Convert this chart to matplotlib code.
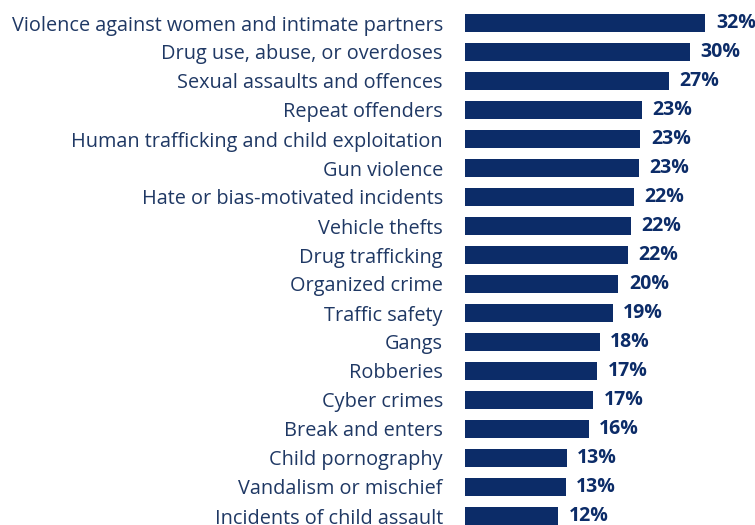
import matplotlib
matplotlib.use("Agg")
import matplotlib.pyplot as plt

categories = [
    "Violence against women and intimate partners",
    "Drug use, abuse, or overdoses",
    "Sexual assaults and offences",
    "Repeat offenders",
    "Human trafficking and child exploitation",
    "Gun violence",
    "Hate or bias-motivated incidents",
    "Vehicle thefts",
    "Drug trafficking",
    "Organized crime",
    "Traffic safety",
    "Gangs",
    "Robberies",
    "Cyber crimes",
    "Break and enters",
    "Child pornography",
    "Vandalism or mischief",
    "Incidents of child assault",
]
# bar lengths (estimated, unrounded) and the printed rounded labels
values = [31.8, 29.8, 27.0, 23.45, 23.2, 23.05, 22.3, 21.9, 21.55, 20.3, 19.55,
          17.8, 17.5, 16.95, 16.35, 13.45, 13.35, 12.35]
label_values = [32, 30, 27, 23, 23, 23, 22, 22, 22, 20, 19, 18, 17, 17, 16, 13, 13, 12]
value_labels = [f"{v}%" for v in label_values]

W, H = 755, 525
fig = plt.figure(figsize=(W / 100, H / 100), dpi=100)
bar_left_px = 465
px_per_unit = 7.56
ax = fig.add_axes([bar_left_px / W, 0, 1 - bar_left_px / W, 1])

bar_color = "#0c2c68"
text_color = "#1f3864"
font = "Open Sans"

y = list(range(len(categories)))
ax.barh(y, values, height=0.62, color=bar_color)

ax.set_xlim(0, (W - bar_left_px) / px_per_unit)
first_c, step = 23, 29
ax.set_ylim((H - first_c) / step, -first_c / step)

ax.set_yticks(y)
ax.set_yticklabels(categories, fontsize=14.3, color=text_color, family=font)
ax.tick_params(axis="y", length=0, pad=16)
ax.set_xticks([])
for s in ax.spines.values():
    s.set_visible(False)

for yi, v, lab in zip(y, values, value_labels):
    ax.annotate(lab, (v, yi), xytext=(7.5, 0), textcoords="offset points",
                va="center", ha="left", fontsize=14, fontweight="bold",
                color=bar_color, family=font)

fig.savefig("out.png", dpi=100)
